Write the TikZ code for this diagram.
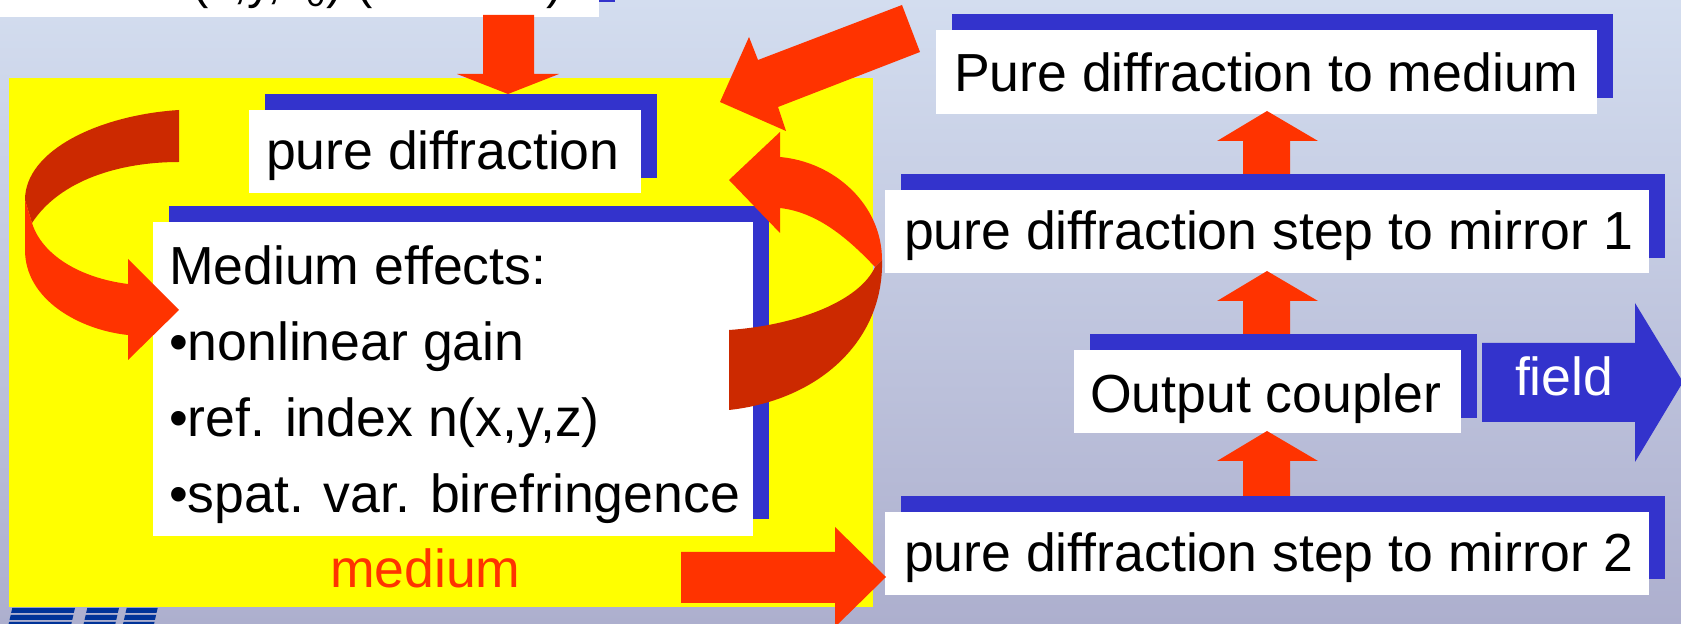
\documentclass[tikz,border=0pt]{standalone}
\usepackage{fontspec}
\setmainfont{Liberation Sans}
\definecolor{bgtop}{HTML}{D3DDEF}
\definecolor{bgbot}{HTML}{ADAFCE}
\definecolor{barblue}{HTML}{3333CC}
\definecolor{arrred}{HTML}{FF3300}
\definecolor{arrdark}{HTML}{CC2900}
\definecolor{logoblue}{HTML}{003399}
\definecolor{medyellow}{HTML}{FFFF00}
\begin{document}
\begin{tikzpicture}[x=0.5pt,y=-0.5pt,
  txt/.style={anchor=base west,inner sep=0pt,outer sep=0pt,font=\fontsize{26.8}{30}\selectfont},
  shadowbar/.style={fill=barblue},
  card/.style={fill=white},
  blockarrow/.style={fill=arrred},
  backside/.style={fill=arrdark},
  logo/.style={fill=logoblue}]
\useasboundingbox (0,0) rectangle (1681,624);
\clip (0,0) rectangle (1681,624);
\shade[top color=bgtop,bottom color=bgbot] (0,0) rectangle (1681,624);

% the medium region
\fill[medyellow] (9,78) rectangle (873,607);
\node[txt,text=arrred] (medlabel) at (330,588) {medium};

% logo bars, bottom left
\foreach \gx/\gw in {12.3/62.7, 87.3/31.7, 126.7/31} {
  \foreach \r in {0,1,2} {
    \fill[logo] ({\gx-1.6*\r},{608+7*\r}) -- ++(\gw,0) -- ++(-1.2,5) -- ++(-\gw,0) -- cycle;
  }
}

% start field box (runs off the top edge)
\fill[shadowbar] (-20,-80) rectangle (615,2);
\fill[card] (-20,-80) rectangle (599,17);
\node[txt,font=\fontsize{24.5}{28}\selectfont] (start) at (160,-1) {E(x,y,z\textsubscript{0}) (from file)};

% pure diffraction inside the medium
\fill[shadowbar] (265,94) rectangle (657,178);
\fill[card] (249,110) rectangle (641,193);
\node[txt] (pd) at (266,170) {pure diffraction};

% medium effects
\fill[shadowbar] (169,206) rectangle (769,519);
\fill[card] (153,222) rectangle (753,536);
\node[txt] (eff) at (169,285) {Medium effects:};
\node[txt] (gain) at (169,361) {•nonlinear gain};
\node[txt] (refr) at (169,437) {•ref. index n(x,y,z)};
\node[txt] (biref) at (169,513) {•spat. var. birefringence};

% resonator steps on the right
\fill[shadowbar] (952,14) rectangle (1613,98);
\fill[card] (936,30) rectangle (1597,114);
\node[txt] (tomed) at (954,92) {Pure diffraction to medium};

\fill[shadowbar] (901,174) rectangle (1665,258);
\fill[card] (885,190) rectangle (1649,273);
\node[txt] (mir1) at (904,250) {pure diffraction step to mirror 1};

\fill[shadowbar] (1090,334) rectangle (1477,418);
\fill[card] (1074,350) rectangle (1461,433);
\node[txt] (coupler) at (1090,413) {Output coupler};

\fill[shadowbar] (901,496) rectangle (1665,579);
\fill[card] (885,512) rectangle (1649,595);
\node[txt] (mir2) at (904,572) {pure diffraction step to mirror 2};

% output field arrow
\fill[barblue] (1482,343) -- (1635,343) -- (1635,303) -- (1683,382) -- (1635,462) -- (1635,422) -- (1482,422) -- cycle;
\node[txt,text=white] (field) at (1515,396) {field};

% upward block arrows between the steps
\foreach \tip/\base/\foot in {111/141/174, 271/301/334, 431/461/496} {
  \fill[blockarrow] (1243,\foot) -- (1243,\base) -- (1217,\base) -- (1267,\tip)
    -- (1318,\base) -- (1290,\base) -- (1290,\foot) -- cycle;
}

% start field into the medium
\fill[blockarrow] (483,15) -- (534,15) -- (534,74) -- (559,74) -- (508,94) -- (457,74) -- (483,74) -- cycle;

% return from the resonator into the medium
\fill[blockarrow] (902,5) -- (920,52) -- (778,107) -- (786,131) -- (720,102) -- (749,37) -- (758,60) -- cycle;

% medium to mirror 2
\fill[blockarrow] (681,552) -- (835,552) -- (835,527) -- (886,577) -- (835,627) -- (835,603) -- (681,603) -- cycle;

% left curl: pure diffraction -> medium effects
\fill[backside] (179,110) .. controls (100,115) and (25,150) .. (25,200)
  -- (32,223) .. controls (60,180) and (120,162) .. (179,162) -- cycle;
\fill[blockarrow] (25,200) -- (25,250) .. controls (25,300) and (80,330) .. (128,335)
  -- (128,360) -- (179,310) -- (128,259) -- (128,284)
  .. controls (80,278) and (42,255) .. (32,223) -- cycle;

% right curl: medium effects -> pure diffraction
\fill[blockarrow] (780,157) .. controls (835,162) and (882,205) .. (882,260)
  -- (875,267) .. controls (845,235) and (815,212) .. (780,208)
  -- (780,233) -- (729,180) -- (780,132) -- cycle;
\fill[backside] (882,260) .. controls (884,340) and (820,400) .. (729,410)
  -- (729,330) .. controls (800,325) and (860,300) .. (875,267) -- cycle;
\end{tikzpicture}
\end{document}
